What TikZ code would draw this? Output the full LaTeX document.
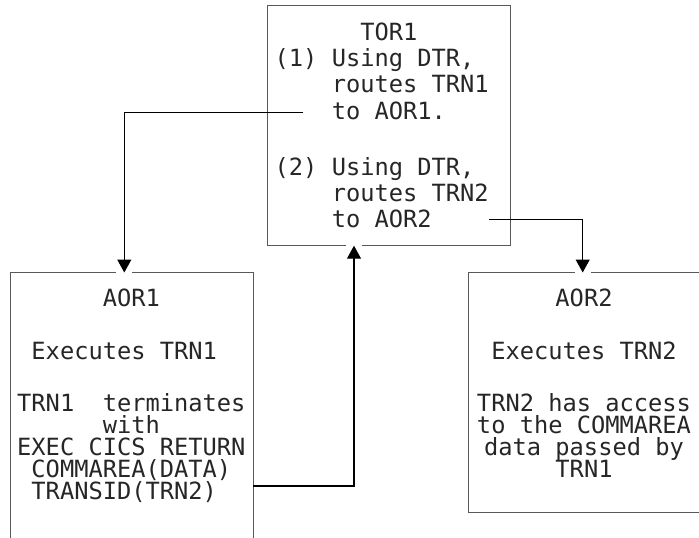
\documentclass[tikz,border=0pt]{standalone}
\usepackage{fontspec}
\newfontfamily\ibmmono{DejaVu Sans Mono}
\usepackage{tikz}
\usetikzlibrary{arrows.meta,%
		calc,%
		positioning}
\setlength{\lineskiplimit}{-30pt}

\tikzset{
  regione/.style={draw=black!65, line width=1.3pt, inner sep=0pt, outer sep=0pt},
  testo/.style={inner sep=0pt, text=black!85, font=\ibmmono\fontsize{23.7}{#1}\selectfont},
  testo/.default=22.2,
  flusso/.style={line width=1.1pt, -{Triangle[width=14pt,length=13pt]}},
  varco/.style={fill=white, minimum width=16pt, minimum height=4pt, inner sep=0pt}
}

\begin{document}
\begin{tikzpicture}[x=1pt,y=-1pt]
%Instradamento dinamico con COMMAREA
\useasboundingbox (0,0) rectangle (699,538);
\clip (0,0) rectangle (699,538);
\node[regione, minimum width=243.2pt, minimum height=240pt] (tor) at (389.1,125.7) {};
\node[regione, minimum width=242.6pt, minimum height=287.5pt] (aor1) at (132,416.25) {};
\node[regione, minimum width=251.7pt, minimum height=240.2pt] (aor2) at (594.15,392.6) {};
\node[testo=26.2, align=left, below right=17pt and 7pt of tor.north west] (tortxt)
  {~~~~~~TOR1\\(1) Using DTR,\\~~~~routes TRN1\\~~~~to AOR1.\\[29.8pt](2) Using DTR,\\~~~~routes TRN2\\~~~~to AOR2};
\node[testo, align=left, below right=16.4pt and 6.3pt of aor1.north west] (aor1txt)
  {~~~~~~AOR1\\[30.8pt]~Executes TRN1\\[29.3pt]TRN1~~terminates\\~~~~~~with\\EXEC CICS RETURN\\~COMMAREA(DATA)\\~TRANSID(TRN2)};
\node[testo, align=center, below=16.4pt of aor2.north west, xshift=115.7pt] (aor2txt)
  {AOR2\\[30.8pt]Executes TRN2\\[29.3pt]TRN2 has access\\to the COMMAREA\\data passed by\\TRN1};
\coordinate (da1) at ($(tor.west)+(35.5,-13)$);
\coordinate (a1) at ($(aor1.north)+(-7.7,0)$);
\coordinate (da2) at ($(tor.east)+(-21.4,93.6)$);
\coordinate (a2) at ($(aor2.north)+(-11.45,0)$);
\coordinate (r1) at ($(aor1.east)+(0,69.75)$);
\coordinate (t1) at ($(tor.south)+(-35.1,0)$);
\foreach \p in {a1,a2,t1}
  \node[varco] (varco-\p) at (\p) {};
\draw[flusso] (da1) -| (a1);
\draw[flusso] (r1) -| (t1);
\draw[flusso] (da2) -| (a2);
\end{tikzpicture}
\end{document}
